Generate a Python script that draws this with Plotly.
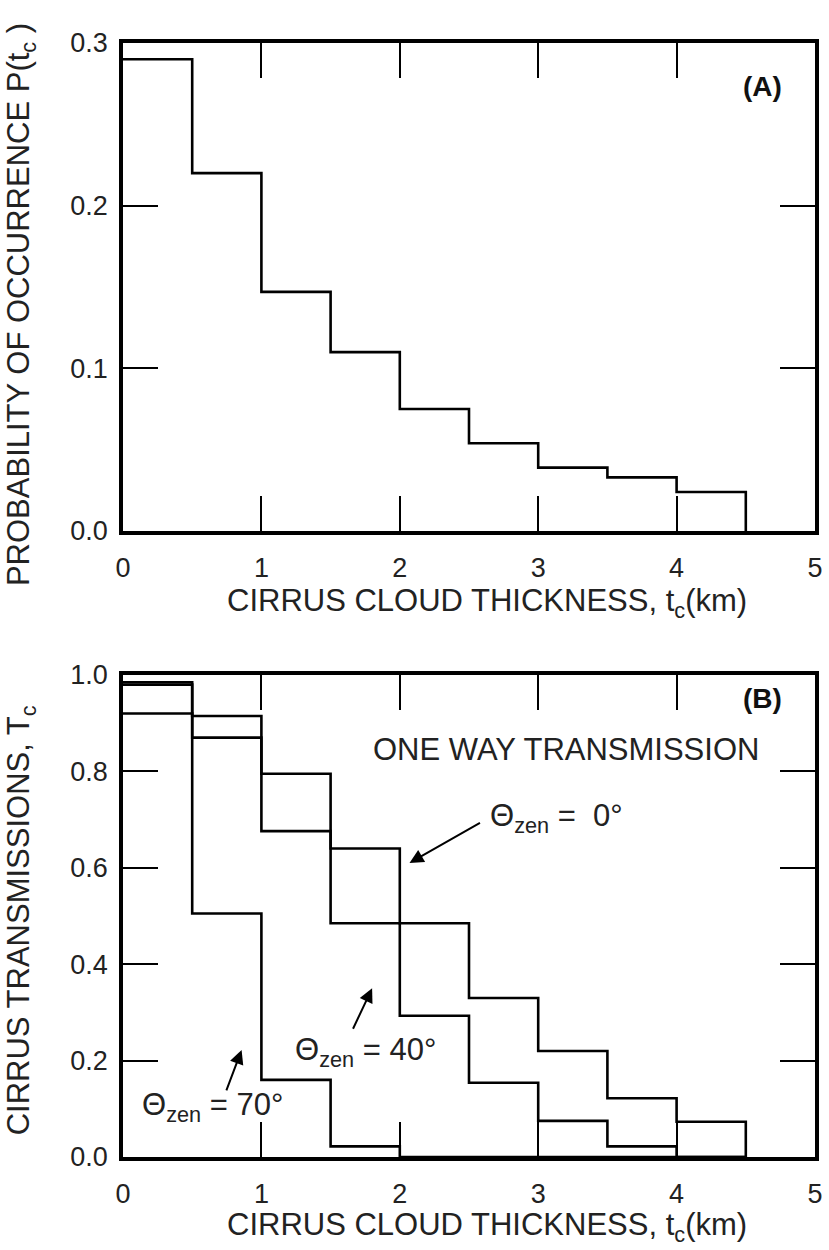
import plotly.graph_objects as go

# ---- data ----
bin_edges = [0, 0.5, 1.0, 1.5, 2.0, 2.5, 3.0, 3.5, 4.0, 4.5]
prob_occurrence = [0.290, 0.220, 0.147, 0.110, 0.075, 0.054, 0.039, 0.033, 0.024]
trans_zen0 = [0.980, 0.915, 0.795, 0.640, 0.485, 0.330, 0.220, 0.122, 0.073]
trans_zen40 = [0.985, 0.870, 0.676, 0.485, 0.293, 0.154, 0.075, 0.022, 0.0]
trans_zen70 = [0.920, 0.505, 0.160, 0.022, 0.0, 0.0, 0.0, 0.0, 0.0]

x_ticks = [0, 1, 2, 3, 4, 5]
x_tick_text = ["0", "1", "2", "3", "4", "5"]
yA_ticks = [0.0, 0.1, 0.2, 0.3]
yB_ticks = [0.0, 0.2, 0.4, 0.6, 0.8, 1.0]

FONT = "Liberation Sans, Arial, Helvetica, sans-serif"


def step_xy(values):
    # bin values followed by the drop to zero at the last edge
    return list(bin_edges), list(values) + [0.0]


fig = go.Figure()

line_style = dict(color="black", width=2.6, shape="hv")

xa, ya = step_xy(prob_occurrence)
fig.add_trace(go.Scatter(x=xa, y=ya, mode="lines", line=line_style,
                         xaxis="x", yaxis="y", showlegend=False))
for vals in (trans_zen0, trans_zen40, trans_zen70):
    xb, yb = step_xy(vals)
    fig.add_trace(go.Scatter(x=xb, y=yb, mode="lines", line=line_style,
                             xaxis="x2", yaxis="y2", showlegend=False))

axis_common = dict(
    showline=True, linecolor="black", linewidth=3.5, mirror="ticks",
    ticks="inside", ticklen=35, tickwidth=2, tickcolor="black",
    showgrid=False, zeroline=False,
    tickfont=dict(family=FONT, size=27, color="#222"),
)

x_common = dict(axis_common, range=[0, 5], tickvals=x_ticks, ticktext=x_tick_text,
                ticklabelstandoff=10)

fig.update_layout(
    width=829, height=1250,
    margin=dict(l=123, r=6, t=43, b=93),
    paper_bgcolor="white", plot_bgcolor="white",
    xaxis=dict(x_common, anchor="y"),
    yaxis=dict(axis_common, range=[0, 0.3], tickvals=yA_ticks, tickformat=".1f",
               domain=[0.5619, 1.0], ticklabelstandoff=6),
    xaxis2=dict(x_common, anchor="y2"),
    yaxis2=dict(axis_common, range=[0, 1.0], tickvals=yB_ticks, tickformat=".1f",
                domain=[0.0, 0.4327], ticklabelstandoff=6),
)

title_font = dict(family=FONT, size=31, color="#222")
ann_font = dict(family=FONT, size=31, color="#222")
bold_font = dict(family=FONT, size=28, color="#111")
NB = "\u00a0"

annotations = [
    # axis titles
    dict(x=0.526, y=0.497, xref="paper", yref="paper", xanchor="center", yanchor="middle",
         text="CIRRUS CLOUD THICKNESS, t<sub>c</sub>(km)", showarrow=False, font=title_font),
    dict(x=0.526, y=-0.063, xref="paper", yref="paper", xanchor="center", yanchor="middle",
         text="CIRRUS CLOUD THICKNESS, t<sub>c</sub>(km)", showarrow=False, font=title_font),
    dict(x=-0.147, y=0.765, xref="paper", yref="paper", xanchor="center", yanchor="middle",
         textangle=-90, text="PROBABILITY OF OCCURRENCE P(t<sub>c</sub> )",
         showarrow=False, font=title_font),
    dict(x=-0.147, y=0.2127, xref="paper", yref="paper", xanchor="center", yanchor="middle",
         textangle=-90, text="CIRRUS TRANSMISSIONS, T<sub>c</sub>",
         showarrow=False, font=title_font),
    # panel labels
    dict(x=4.62, y=0.273, xref="x", yref="y", text="<b>(A)</b>", showarrow=False,
         font=bold_font),
    dict(x=4.62, y=0.952, xref="x2", yref="y2", text="<b>(B)</b>", showarrow=False,
         font=bold_font),
    dict(x=3.20, y=0.845, xref="x2", yref="y2", text="ONE WAY TRANSMISSION",
         showarrow=False, font=ann_font),
    # curve labels
    dict(x=2.64, y=0.703, xref="x2", yref="y2", xanchor="left",
         text="Θ<sub>zen</sub>" + NB + "=" + NB + NB + "0°", showarrow=False, font=ann_font),
    dict(x=1.23, y=0.218, xref="x2", yref="y2", xanchor="left",
         text="Θ<sub>zen</sub>" + NB + "=" + NB + "40°", showarrow=False, font=ann_font),
    dict(x=0.12, y=0.104, xref="x2", yref="y2", xanchor="left",
         text="Θ<sub>zen</sub>" + NB + "=" + NB + "70°", showarrow=False, font=ann_font),
    # arrows
    dict(x=2.07, y=0.61, ax=2.59, ay=0.695, xref="x2", yref="y2",
         axref="x2", ayref="y2", text="", showarrow=True, arrowhead=2,
         arrowsize=1.4, arrowwidth=2, arrowcolor="black"),
    dict(x=1.80, y=0.35, ax=1.657, ay=0.263, xref="x2", yref="y2",
         axref="x2", ayref="y2", text="", showarrow=True, arrowhead=2,
         arrowsize=1.4, arrowwidth=2, arrowcolor="black"),
    dict(x=0.857, y=0.222, ax=0.743, ay=0.135, xref="x2", yref="y2",
         axref="x2", ayref="y2", text="", showarrow=True, arrowhead=2,
         arrowsize=1.4, arrowwidth=2, arrowcolor="black"),
]
fig.update_layout(annotations=annotations)

fig.write_html("out.html")
